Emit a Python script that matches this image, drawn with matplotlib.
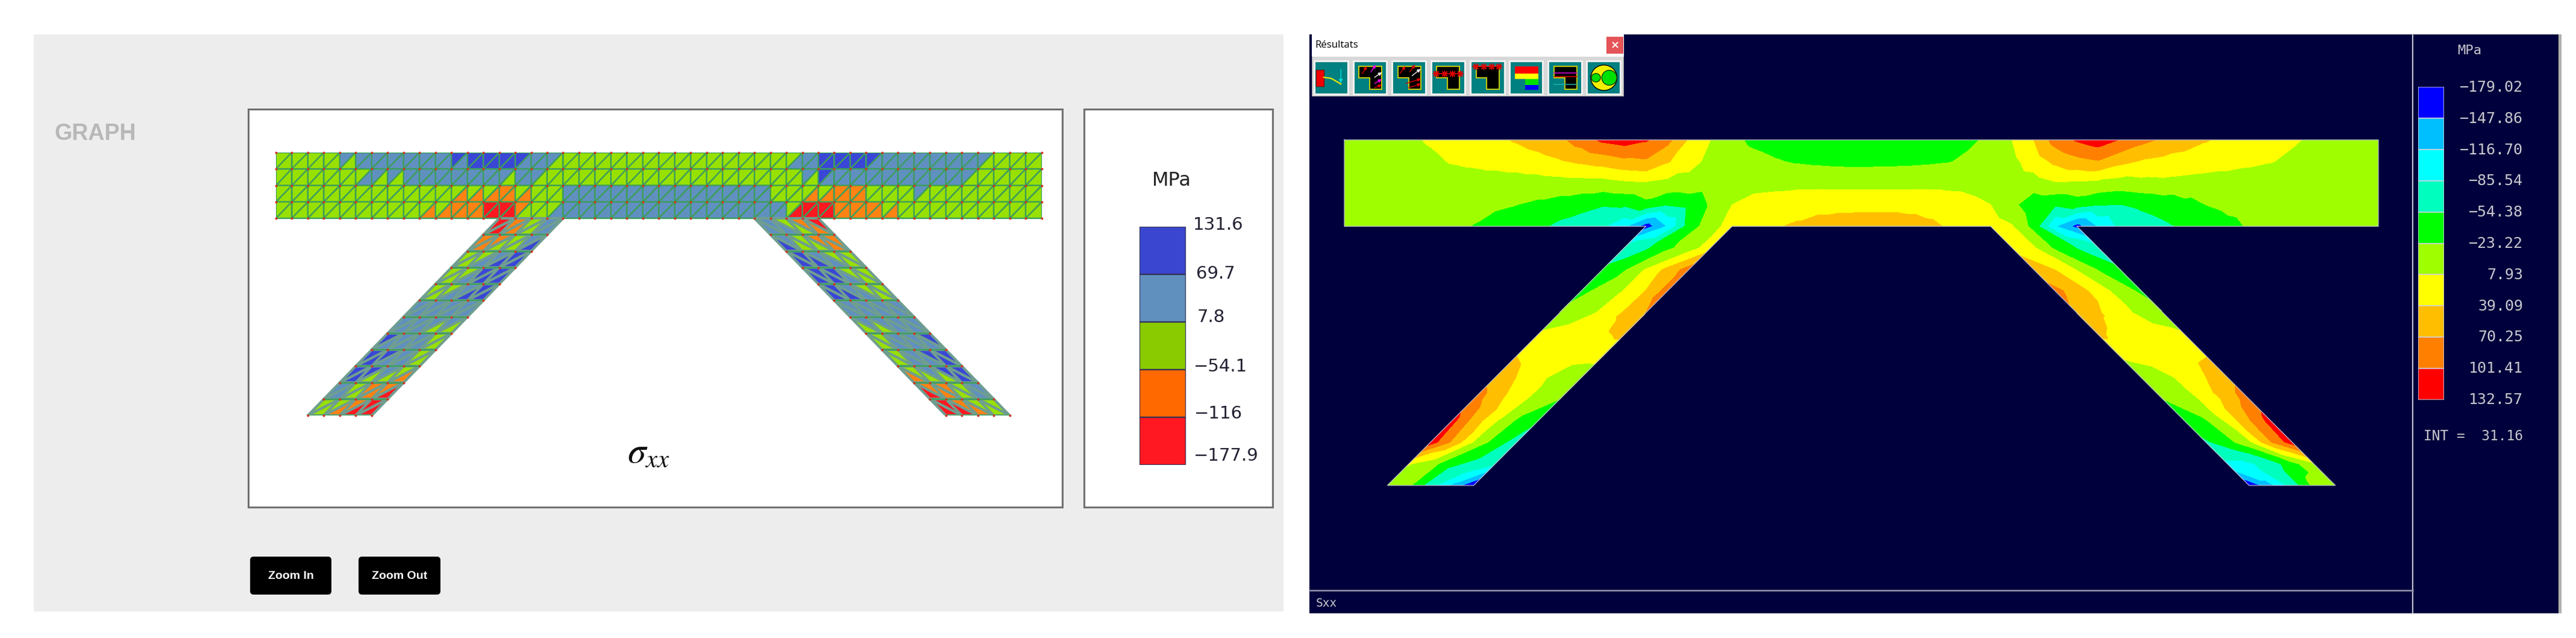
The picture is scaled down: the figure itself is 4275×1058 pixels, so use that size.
import numpy as np
import matplotlib
matplotlib.use("Agg")
import matplotlib.pyplot as plt
import matplotlib.tri as mtri
from matplotlib.collections import PolyCollection
from matplotlib.patches import Rectangle, FancyBboxPatch, Polygon, Ellipse, FancyArrowPatch

W, H = 4275, 1058

# --- mesh colour classes, left chart (r/o/g/s/b per triangle, one string per element row)
mesh_levels = ["131.6", "69.7", "7.8", "\u221254.1", "\u2212116", "\u2212177.9"]
legend_colors = ["#3A46CF", "#6090BE", "#8ACB00", "#FF6900", "#FF1821"]
mesh_colors = {"b": "#3A46D6", "s": "#6090C0", "g": "#98E000", "o": "#FF8212", "r": "#FF1820"}

beam_upper = [
    "gggg" "sssssss" "bbbbb" "ss" "ggggggggggggggg" "s" "bbbb" "sssssss" "ggg",
    "gggggg" "sssssssssss" "gggggggggggggggg" "s" "b" "sssssssss" "gggg",
    "gggggggggggggg" "o" "ggg" "sssssssssssss" "gggg" "oo" "ggg" "s" "ggggggg",
    "ggggggggggg" "oo" "rr" "o" "gg" "ssssssssssssss" "g" "rr" "ooo" "gggggggggg",
]
beam_lower = [
    "ggggg" "ssssss" "s" "bbb" "ss" "g" "gggggggggggggg" "ss" "bbb" "s" "ssssss" "gggg",
    "ggggg" "s" "gg" "ssssss" "g" "s" "gggggggggggggggggg" "sssssssss" "ggggg",
    "ggggggggggg" "ooooo" "gg" "sssssssssssss" "gg" "oooo" "ggggggggggg",
    "ggggggggg" "oooo" "rr" "gg" "sssssssssssssss" "rrr" "oooo" "ggggggggg",
]
left_leg_upper = ["rogs", "oogs", "ggsb", "ggbb", "ggsb", "ssss", "ssss", "bssg", "bbsg", "bbsg", "sgoo", "ggor"]
left_leg_lower = ["rogs", "oggb", "gsbb", "gsbb", "gsbb", "ssss", "ssgg", "sssg", "bssg", "bggo", "sgor", "gorr"]
right_leg_upper = ["sgor", "sgoo", "bsgg", "bbgg", "bsgg", "ssss", "ssss", "gssb", "gsbb", "gsbb", "oogs", "rogg"]
right_leg_lower = ["ssgo", "bggo", "bbsg", "bbsg", "bbsg", "ssss", "ggss", "gsss", "gssb", "oggb", "rogs", "rrog"]

# --- nodal stress (MPa), beam rows top to bottom
sxx_row0 = [-5, -3, -2, 3, 11, 18, 25, 33, 42, 52, 63, 85, 108, 116, 105, 80, 35, 8, -15, -30, -36, -40, -44, -46, -48,
            -47, -45, -41, -36, -28, -18, 8, 39, 83, 105, 118, 100, 80, 65, 52, 41, 32, 25, 18, 11, 4, 0, -3, -5]
sxx_row1 = [-8, -7, -6, -4, 2, 10, 14, 18, 22, 28, 36, 44, 52, 62, 66, 42, 18, 0, -6, -14, -21, -26, -29, -31, -32,
            -31, -30, -28, -25, -18, -10, 0, 22, 46, 60, 68, 48, 36, 31, 27, 23, 19, 14, 9, 3, -2, -5, -7, -8]
sxx_row2 = [-10, -10, -10, -10, -9, -8, -7, -7, -7, -6, -5, -5, -5, 2, 5, -1, -3, -10, -8, -2, 0, 1, 1, 0, 0,
            0, 0, 1, 1, 0, -5, -10, -6, 5, 3, -1, -6, -2, 0, -3, -6, -7, -8, -8, -9, -9, -10, -10, -10]
sxx_row3 = [-9, -10, -11, -12, -13, -15, -17, -20, -23, -29, -36, -43, -52, -50, -33, -52, -45, -20, 8, 18, 20, 23, 25, 25, 25,
            25, 25, 23, 20, 15, 8, -15, -45, -50, -40, -52, -55, -49, -42, -32, -23, -17, -14, -12, -11, -10, -10, -10, -10]
sxx_row4 = [-10, -10, -11, -13, -15, -19, -24, -31, -39, -48, -62, -72, -82, -110, -165, -115, -40, -5, 22, 28, 36, 44, 55, 62, 65,
            64, 58, 48, 36, 28, 22, 10, -35, -115, -160, -115, -78, -68, -60, -50, -40, -30, -21, -17, -14, -12, -11, -10, -10]
sxx_left_leg = [
    [-70, -60, -30, -8, 25], [-50, -28, 10, 48, 85], [-30, -15, 10, 40, 85], [-18, -6, 14, 42, 70],
    [12, 20, 26, 34, 46], [39, 25, 20, 16, 14], [60, 38, 16, -4, -2], [85, 48, 22, -8, -23],
    [112, 58, 12, -28, -50], [118, 65, 5, -38, -70], [10, -8, -50, -60, -82], [-5, -18, -73, -124, -180],
]
sxx_right_leg = [
    [30, 12, -30, -56, -70], [55, 38, 6, -26, -50], [80, 55, 25, -6, -30], [65, 42, 22, -2, -15],
    [45, 28, 22, 18, 12], [12, 18, 22, 28, 38], [-12, -3, 18, 39, 62], [-23, -8, 16, 50, 85],
    [-40, -26, 15, 67, 114], [-60, -35, 0, 68, 118], [-90, -90, -72, -35, 2], [-175, -125, -72, -16, -5],
]
sxx_levels = [-179.02, -147.86, -116.70, -85.54, -54.38, -23.22, 7.93, 39.09, 70.25, 101.41, 132.57]
sxx_labels = ["\u2212179.02", "\u2212147.86", "\u2212116.70", "\u221285.54", "\u221254.38", "\u221223.22",
              "7.93", "39.09", "70.25", "101.41", "132.57"]
sxx_colors = ["#0000FF", "#00BFFF", "#00FFFF", "#00FFBF", "#00FF00", "#9FFF00", "#FFFF00", "#FFBF00", "#FF8000", "#FF0000"]

# --- mesh topology, same for both charts: 48x4 beam, two 4x12 legs
nodes = {}
xs, ys, vals = [], [], []


def add_node(key, col, row, val):
    nodes[key] = len(xs)
    xs.append(col)
    ys.append(row)
    vals.append(val)


beam_rows = [sxx_row0, sxx_row1, sxx_row2, sxx_row3, sxx_row4]
for r, row in enumerate(beam_rows):
    for c, v in enumerate(row):
        add_node(("b", c, r), c, r, v)
for i in range(5):
    nodes[("l", 0, i)] = nodes[("b", 14 + i, 4)]
    nodes[("r", 0, i)] = nodes[("b", 30 + i, 4)]
for j in range(1, 13):
    for i in range(5):
        add_node(("l", j, i), 14 - j + i, 4 + j, sxx_left_leg[j - 1][i])
        add_node(("r", j, i), 30 + j + i, 4 + j, sxx_right_leg[j - 1][i])

tris, keys = [], []
for r in range(4):
    for c in range(48):
        tl, tr = nodes[("b", c, r)], nodes[("b", c + 1, r)]
        bl, br = nodes[("b", c, r + 1)], nodes[("b", c + 1, r + 1)]
        tris += [[bl, tr, tl], [bl, br, tr]]
        keys += [beam_upper[r][c], beam_lower[r][c]]
for j in range(12):
    for i in range(4):
        tl, tr = nodes[("l", j, i)], nodes[("l", j, i + 1)]
        bl, br = nodes[("l", j + 1, i)], nodes[("l", j + 1, i + 1)]
        tris += [[bl, tr, tl], [bl, br, tr]]
        keys += [left_leg_upper[j][i], left_leg_lower[j][i]]
        tl, tr = nodes[("r", j, i)], nodes[("r", j, i + 1)]
        bl, br = nodes[("r", j + 1, i)], nodes[("r", j + 1, i + 1)]
        tris += [[tl, tr, br], [tl, br, bl]]
        keys += [right_leg_upper[j][i], right_leg_lower[j][i]]
xs, ys, vals, tris = np.array(xs, float), np.array(ys, float), np.array(vals, float), np.array(tris)
leg_mask = np.array([k >= 384 for k in range(len(tris))])

outline_cols = [0, 48, 48, 34, 46, 42, 30, 18, 6, 2, 14, 0, 0]
outline_rows = [0, 0, 4, 4, 16, 16, 4, 4, 16, 16, 4, 4, 0]

plt.rcParams["mathtext.fontset"] = "stix"
fig = plt.figure(figsize=(W / 100, H / 100), dpi=100, facecolor="white")


def px_axes(x0, y0, x1, y1, **kw):
    return fig.add_axes([x0 / W, 1 - y1 / H, (x1 - x0) / W, (y1 - y0) / H], **kw)


# page layer in picture pixels
bg = px_axes(0, 0, W, H)
bg.set_xlim(0, W)
bg.set_ylim(H, 0)
bg.axis("off")
bg.add_patch(Rectangle((56, 57), 2074, 957, fc="#EDEDED", ec="none"))
for x0, x1 in [(412, 1763), (1799, 2112)]:
    bg.add_patch(Rectangle((x0, 181), x1 - x0, 660, fc="white", ec="#707070", lw=2.2))
bg.text(91, 222, "GRAPH", family="Liberation Sans", weight="bold", fontsize=27, color="#B8B8B8", va="center")
bg.text(1076, 750, r"$\sigma_{xx}$", fontsize=44, ha="center", va="center", color="#111111")
for x0, x1, label in [(415, 550, "Zoom In"), (595, 731, "Zoom Out")]:
    bg.add_patch(FancyBboxPatch((x0 + 6, 929), x1 - x0 - 12, 51, boxstyle="round,pad=6", fc="black", ec="none"))
    bg.text((x0 + x1) / 2, 955, label, family="Liberation Sans", weight="bold", fontsize=14, color="white",
            ha="center", va="center")

# left chart: coloured mesh
ax_mesh = px_axes(458, 253, 1728.6, 689)
ax_mesh.set_xlim(0, 48)
ax_mesh.set_ylim(16, 0)
ax_mesh.axis("off")
ax_mesh.patch.set_alpha(0)
verts = [np.column_stack([xs[t], ys[t]]) for t in tris]
face = [mesh_colors[k] for k in keys]
edge = ["#6F9E90" if m else "#3C9E5C" for m in leg_mask]
widths = [3.0 if m else 1.7 for m in leg_mask]
ax_mesh.add_collection(PolyCollection(verts, facecolors=face, edgecolors=edge, linewidths=widths))
# horizontal element lines stay green on the legs
for j in range(1, 13):
    for side in "lr":
        a, b = nodes[(side, j, 0)], nodes[(side, j, 4)]
        ax_mesh.plot(xs[[a, b]], ys[[a, b]], color="#3C9E5C", lw=1.7)
ax_mesh.scatter(xs, ys, s=8, color="#D8301E", marker="o", linewidths=0, zorder=5, clip_on=False)

# left legend
ax_leg = px_axes(1891, 376, 1968, 771)
ax_leg.set_xlim(0, 1)
ax_leg.set_ylim(5, 0)
ax_leg.axis("off")
ax_leg.bar([0.5] * 5, [1] * 5, width=1, bottom=range(5), color=legend_colors, edgecolor="#333355", linewidth=1.6)
bg.text(1944, 300, "MPa", fontsize=23, color="#222222", ha="center", va="center")
leg_x = [1980, 1985, 1987, 1981, 1982, 1981]
leg_y = [373, 454, 526, 608, 686, 756]
for x, y, s in zip(leg_x, leg_y, mesh_levels):
    bg.text(x, y, s, fontsize=21, color="#222233", ha="left", va="center")

# right chart: dark screen
bg.add_patch(Rectangle((2173, 57), 2075, 960, fc="#00003C", ec="none"))
bg.add_patch(Rectangle((4246, 57), 5, 960, fc="#B0B0B0", ec="none"))
bg.plot([4004, 4004], [57, 1017], color="#C8C8D8", lw=1.4)
bg.plot([2173, 4004], [979, 979], color="#9898B0", lw=1.8)

ax_c = px_axes(2231, 232, 3947, 805)
ax_c.set_xlim(0, 48)
ax_c.set_ylim(16, 0)
ax_c.axis("off")
ax_c.patch.set_alpha(0)
triang = mtri.Triangulation(xs, ys, tris)
ax_c.tricontourf(triang, np.clip(vals, -179, 132.5), levels=sxx_levels, colors=sxx_colors, antialiased=False)
ax_c.plot(outline_cols, outline_rows, color="#B8B8D0", lw=0.9, clip_on=False)

# right legend
ax_cb = px_axes(4013, 144, 4056, 663)
ax_cb.set_xlim(0, 1)
ax_cb.set_ylim(10, 0)
ax_cb.axis("off")
ax_cb.bar([0.5] * 10, [1] * 10, width=1, bottom=range(10), color=sxx_colors, edgecolor="#D0D0E0", linewidth=1.1)
mono = dict(family="DejaVu Sans Mono", color="#C8C8D0", va="center")
for y, s in zip(np.linspace(145, 663, 11), sxx_labels):
    bg.text(4187, y, s, fontsize=18, ha="right", **mono)
bg.text(4098, 84, "MPa", fontsize=16, ha="center", **mono)
bg.text(4187, 723, "INT =  31.16", fontsize=16.5, ha="right", **mono)
bg.text(2184, 1000, "Sxx", fontsize=14, ha="left", **mono)

# toolbar window, in crop coordinates of the window
ax_w = px_axes(2177, 57, 2695, 160)
ax_w.set_xlim(20, 1470)
ax_w.set_ylim(330, 22)
ax_w.axis("off")
ax_w.add_patch(Rectangle((20, 22), 1450, 308, fc="#D8D8D8", ec="#909090", lw=1.2))
ax_w.add_patch(Rectangle((20, 22), 1450, 110, fc="white", ec="none"))
ax_w.add_patch(Rectangle((1390, 35), 78, 83, fc="#E55458", ec="none"))
ax_w.text(1429, 76, "\u00d7", color="white", fontsize=13, weight="bold", ha="center", va="center")
ax_w.text(35, 76, "R\u00e9sultats", family="Noto Sans", fontsize=12, color="#111111", va="center")
btn_left = [30, 212, 393, 573, 757, 937, 1118, 1297]
btn_right = [187, 367, 550, 730, 915, 1093, 1275, 1453]
for a, b in zip(btn_left, btn_right):
    ax_w.add_patch(Rectangle((a, 153), b - a, 165, fc="#008080", ec="#F0F0F0", lw=2.2))


def ell(x0):
    return [(x0, 180), (x0 + 107, 180), (x0 + 107, 293), (x0 + 50, 293), (x0 + 50, 238), (x0, 238)]


for x0 in [238, 420, 600, 783, 1145]:
    ax_w.add_patch(Polygon(ell(x0), closed=True, fc="black", ec="#D8D800", lw=1.3))
ax_w.add_patch(Rectangle((40, 197), 35, 83, fc="#F00000", ec="#801010", lw=1))
ax_w.plot([75, 110, 155], [235, 240, 268], color="#E8E800", lw=1.6)
ax_w.add_patch(FancyArrowPatch((155, 187), (155, 272), arrowstyle="-|>", mutation_scale=9, color="#00E0E0", lw=1))
arrow_sets = [
    [(250, 225, 280, 172, "#E00000"), (290, 215, 322, 165, "#F000F0"), (305, 240, 352, 205, "#F0F0F0"),
     (305, 270, 352, 240, "#F000F0"), (305, 290, 352, 268, "#E00000")],
    [(425, 222, 460, 172, "#E00000"), (470, 215, 505, 165, "#E00000"), (480, 232, 532, 188, "#F0F0F0"),
     (450, 268, 535, 240, "#E00000"), (460, 290, 535, 265, "#E00000")],
]
for arrows in arrow_sets:
    for x0, y0, x1, y1, c in arrows:
        ax_w.add_patch(FancyArrowPatch((x0, y0), (x1, y1), arrowstyle="-|>", mutation_scale=8, color=c, lw=1))
for pts, y in [([597, 635, 672, 708], 215), ([780, 817, 853, 888], 180)]:
    ax_w.plot([pts[0] - 12, pts[-1] + 12], [y, y], color="#E00000", lw=1.1)
    ax_w.plot(pts, [y] * 4, ls="none", marker=(8, 2, 0), ms=8, mew=1, color="#E00000")
color_steps = [(963, 180, 109, 36, "#FF0000"), (963, 216, 109, 27, "#FFFF00"),
               (1010, 243, 62, 29, "#00E000"), (1010, 272, 62, 26, "#0000F0")]
for x0, y0, w0, h0, c in color_steps:
    ax_w.add_patch(Rectangle((x0, y0), w0, h0, fc=c, ec="none"))
for y, c in [(213, "#E000E0"), (232, "#E00000"), (270, "#20B0B0")]:
    ax_w.plot([1145, 1252], [y, y], color=c, lw=1.1)
ax_w.add_patch(Ellipse((1377, 237), 122, 126, fc="#F0F000", ec="black", lw=1))
ax_w.add_patch(Ellipse((1402, 237), 70, 74, fc="#00E000", ec="#104010", lw=1))
ax_w.add_patch(Ellipse((1340, 237), 42, 42, fc="#00E000", ec="#104010", lw=1))

fig.savefig("out.png", dpi=100, facecolor="white")
